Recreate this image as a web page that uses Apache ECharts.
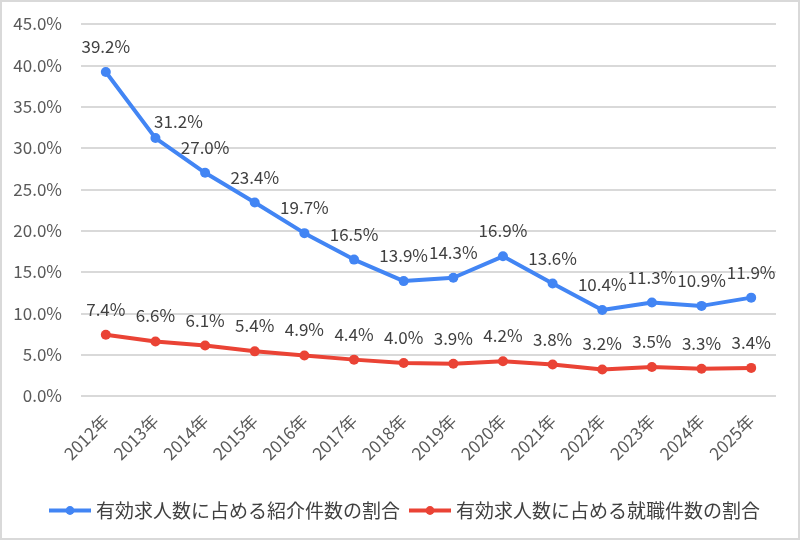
<!doctype html>
<html>
<head>
	<meta charset="UTF-8">
	<title>chart</title>
	<style>
		html, body {
			margin: 0;
			padding: 0;
			background: #fff;
		}
		#chart {
			width: 796px;
			height: 536px;
			border: 2px solid #d9d9d9;
		}
	</style>
</head>
<body>
<div id="chart"></div>
<script src="https://cdn.jsdelivr.net/npm/echarts@6/dist/echarts.min.js"></script>
<script>
	var years = ['2012年', '2013年', '2014年', '2015年', '2016年', '2017年', '2018年', '2019年', '2020年', '2021年', '2022年', '2023年', '2024年', '2025年'];
	var shokaiRate = [39.2, 31.2, 27.0, 23.4, 19.7, 16.5, 13.9, 14.3, 16.9, 13.6, 10.4, 11.3, 10.9, 11.9];
	var shushokuRate = [7.4, 6.6, 6.1, 5.4, 4.9, 4.4, 4.0, 3.9, 4.2, 3.8, 3.2, 3.5, 3.3, 3.4];
	var seriesNames = ['有効求人数に占める紹介件数の割合', '有効求人数に占める就職件数の割合'];

	var font = '"Noto Sans CJK JP", "Noto Sans", sans-serif';

	function pct(v) {
		return v.toFixed(1) + '%';
	}

	function lineSeries(name, data, color) {
		return {
			name: name,
			type: 'line',
			data: data,
			symbol: 'circle',
			symbolSize: 10,
			lineStyle: { width: 4, color: color },
			itemStyle: { color: color },
			label: {
				show: true,
				position: 'top',
				distance: 12,
				color: '#404040',
				fontSize: 17,
				fontFamily: font,
				formatter: function (p) { return pct(p.value); }
			}
		};
	}

	var blue = lineSeries(seriesNames[0], shokaiRate, '#4285f4');
	// 2013年のラベルは線と重ならないよう右上にずらす
	blue.data = shokaiRate.map(function (v, i) {
		if (i === 1) return { value: v, label: { offset: [23, 9] } };
		return v;
	});

	var chart = echarts.init(document.getElementById('chart'));
	chart.setOption({
		animation: false,
		textStyle: { fontFamily: font },
		grid: {
			left: 79,
			right: 22,
			top: 22,
			bottom: 142
		},
		legend: {
			top: 494,
			left: 40,
			itemWidth: 42,
			itemHeight: 11,
			itemGap: 7,
			lineStyle: { width: 4 },
			textStyle: { color: '#404040', fontSize: 19, fontFamily: font },
			data: seriesNames
		},
		xAxis: {
			type: 'category',
			data: years,
			boundaryGap: true,
			axisLine: { show: false },
			axisTick: { show: false },
			axisLabel: {
				rotate: 45,
				color: '#595959',
				fontSize: 17,
				margin: 22,
				interval: 0
			}
		},
		yAxis: {
			type: 'value',
			min: 0,
			max: 45,
			interval: 5,
			axisLine: { show: false },
			axisTick: { show: false },
			splitLine: { lineStyle: { color: '#d9d9d9', width: 2 } },
			axisLabel: {
				color: '#595959',
				fontSize: 17,
				margin: 19,
				formatter: function (v) { return pct(v); }
			}
		},
		series: [
			blue,
			lineSeries(seriesNames[1], shushokuRate, '#ea4335')
		]
	});
</script>
</body>
</html>
